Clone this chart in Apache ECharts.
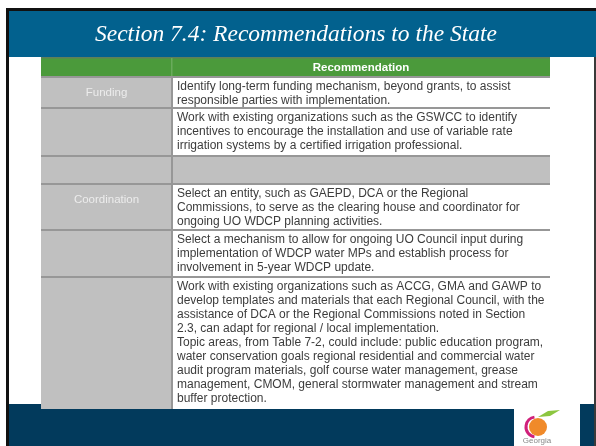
<!DOCTYPE html>
<html>
<head>
<meta charset="utf-8">
<script src="https://cdn.jsdelivr.net/npm/echarts@6/dist/echarts.min.js"></script>
<style>
html,body{margin:0;padding:0;background:#fff;}
#c{width:596px;height:446px;}
</style>
</head>
<body>
<div id="c"></div>
<script>
// ---- data ----
var title = 'Section 7.4: Recommendations to the State';
var headerLabel = 'Recommendation';
var categories = ['Funding', '', '', 'Coordination', '', ''];
var recommendations = [
  'Identify long-term funding mechanism, beyond grants, to assist\nresponsible parties with implementation.',
  'Work with existing organizations such as the GSWCC to identify\nincentives to encourage the installation and use of variable rate\nirrigation systems by a certified irrigation professional.',
  '',
  'Select an entity, such as GAEPD, DCA or the Regional\nCommissions, to serve as the clearing house and coordinator for\nongoing UO WDCP planning activities.',
  'Select a mechanism to allow for ongoing UO Council input during\nimplementation of WDCP water MPs and establish process for\ninvolvement in 5-year WDCP update.',
  'Work with existing organizations such as ACCG, GMA and GAWP to\ndevelop templates and materials that each Regional Council, with the\nassistance of DCA or the Regional Commissions noted in Section\n2.3, can adapt for regional / local implementation.\nTopic areas, from Table 7-2, could include: public education program,\nwater conservation goals regional residential and commercial water\naudit program materials, golf course water management, grease\nmanagement, CMOM, general stormwater management and stream\nbuffer protection.'
];
var separatorRows = [2]; // empty grey row
var logoText = 'Georgia';

// ---- layout ----
var rowHeights = [31, 48, 28, 46, 47, 132];
var tableLeft = 41, tableRight = 550, colSplit = 172, tableTop = 77;

var starts = [], acc = 0;
for (var i = 0; i < rowHeights.length; i++) { starts.push([i, acc, acc + rowHeights[i]]); acc += rowHeights[i]; }
var totalH = acc;

var GREY = '#c0c0c0', LINE = '#979797', TXT = '#3c3c3c';
var BODY_FONT = '12px "Liberation Sans", Arial, sans-serif';

var chart = echarts.init(document.getElementById('c'), null, {renderer: 'canvas'});
chart.setOption({
  animation: false,
  backgroundColor: '#ffffff',
  grid: {left: tableLeft, top: tableTop, width: tableRight - tableLeft, height: totalH, show: false},
  xAxis: {type: 'value', min: 0, max: tableRight - tableLeft, show: false},
  yAxis: {type: 'value', min: 0, max: totalH, inverse: true, show: false},
  graphic: [
    // slide frame
    {type: 'rect', z: 0, shape: {x: 6, y: 8, width: 590, height: 438}, style: {fill: '#111'}},
    {type: 'rect', z: 1, shape: {x: 9, y: 11, width: 586, height: 435}, style: {fill: '#ffffff'}},
    {type: 'rect', z: 2, shape: {x: 9, y: 11, width: 587, height: 46}, style: {fill: '#02618e'}},
    {type: 'rect', z: 2, shape: {x: 594, y: 57, width: 2, height: 389}, style: {fill: '#3a3a3a'}},
    {type: 'text', z: 3, style: {text: title, x: 296, y: 35, align: 'center', verticalAlign: 'middle',
      font: 'italic 23.5px "Liberation Serif", "DejaVu Serif", serif', fill: '#ffffff'}},
    // bottom band
    {type: 'rect', z: 2, shape: {x: 9, y: 404, width: 585, height: 42}, style: {fill: '#023a5c'}},
    // header row of table
    {type: 'rect', z: 4, shape: {x: tableLeft, y: 58, width: tableRight - tableLeft, height: 19}, style: {fill: '#4b9a3b'}},
    {type: 'rect', z: 5, shape: {x: tableLeft, y: 57, width: tableRight - tableLeft, height: 1.5}, style: {fill: '#5f7f5a'}},
    {type: 'rect', z: 5, shape: {x: colSplit - 1, y: 58, width: 1.5, height: 19}, style: {fill: '#6aab5c'}},
    {type: 'text', z: 6, style: {text: headerLabel, x: (colSplit + tableRight) / 2, y: 67.5, align: 'center', verticalAlign: 'middle',
      font: 'bold 11.5px "Liberation Sans", Arial, sans-serif', fill: '#ffffff'}},
    // logo
    {type: 'rect', z: 6, shape: {x: 514, y: 404, width: 66, height: 42}, style: {fill: '#ffffff'}},
    {type: 'circle', z: 7, shape: {cx: 538, cy: 427, r: 9}, style: {fill: '#f08a2a'}},
    {type: 'arc', z: 7, shape: {cx: 536, cy: 427, r: 10, startAngle: Math.PI * 0.55, endAngle: Math.PI * 1.45}, style: {stroke: '#d0207a', lineWidth: 3, fill: null}},
    {type: 'polygon', z: 7, shape: {points: [[538, 417], [548, 411], [560, 410], [550, 416]]}, style: {fill: '#8cc63f'}},
    {type: 'text', z: 7, style: {text: logoText, x: 537, y: 441, align: 'center', verticalAlign: 'middle',
      font: '8px "Liberation Sans", Arial, sans-serif', fill: '#888'}}
  ],
  series: [{
    type: 'custom',
    z: 10,
    data: starts,
    renderItem: function (params, api) {
      var idx = api.value(0);
      var p0 = api.coord([0, api.value(1)]);
      var p1 = api.coord([tableRight - tableLeft, api.value(2)]);
      var split = api.coord([colSplit - tableLeft, 0])[0];
      var top = p0[1], bot = p1[1], h = bot - top;
      var isSep = separatorRows.indexOf(idx) >= 0;
      var children = [
        {type: 'rect', shape: {x: p0[0], y: top, width: split - p0[0], height: h}, style: {fill: GREY}},
        {type: 'rect', shape: {x: split, y: top, width: p1[0] - split, height: h}, style: {fill: isSep ? GREY : '#ffffff'}},
        {type: 'rect', shape: {x: p0[0], y: top - 1, width: p1[0] - p0[0], height: 2}, style: {fill: LINE}},
        {type: 'rect', shape: {x: split - 1, y: top, width: 2, height: h}, style: {fill: LINE}}
      ];
      if (categories[idx]) {
        children.push({type: 'text', style: {text: categories[idx], x: (p0[0] + split) / 2, y: top + 16,
          align: 'center', verticalAlign: 'middle', font: '11.5px "Liberation Sans", Arial, sans-serif', fill: '#ececec'}});
      }
      if (recommendations[idx]) {
        children.push({type: 'text', style: {text: recommendations[idx], x: split + 5, y: top + 3,
          align: 'left', verticalAlign: 'top', lineHeight: 14, font: BODY_FONT, fill: TXT}});
      }
      return {type: 'group', children: children};
    }
  }]
});
</script>
</body>
</html>
